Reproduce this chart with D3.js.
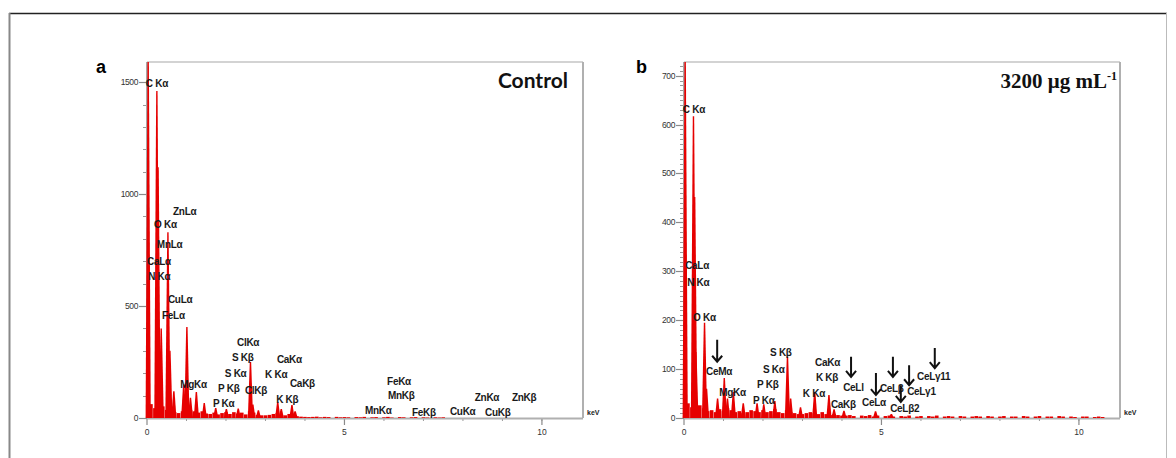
<!DOCTYPE html>
<meta charset="utf-8">
<style>
body { margin: 0; background: #fff; }
svg { display: block; font-family: "Liberation Sans", Arial, sans-serif; }
.peak { fill: #e60000; }
.bg { fill: #e60000; }
.lbl { font-size: 10px; font-weight: bold; fill: #1a1a1a; }
.tick { font-size: 8.5px; fill: #333; }
</style>
<body>
<svg width="1176" height="458"></svg>
<script src="https://d3js.org/d3.v7.min.js"></script>
<script>

// ---- data ----
var keVTicks = [0, 5, 10];
var aYTicks = [0, 500, 1000, 1500];
var bYTicks = [0, 100, 200, 300, 400, 500, 600, 700];

// panel a (Control): peak lines
var aPeakKeV    = [0.03, 0.25, 0.28, 0.36, 0.53, 0.58, 0.68, 0.93, 1.01, 1.10, 1.25, 1.45, 1.74, 2.01, 2.31, 2.62, 2.68, 2.82, 3.31, 3.40, 3.67, 3.75];
var aPeakCounts = [1590, 1460, 1120, 400, 830, 300, 120, 150, 406, 90, 116, 67, 45, 40, 42, 250, 60, 35, 72, 40, 58, 30];
// panel a: background channels, 0.1 keV apart starting at 0.1 keV
var aBgCounts = [62,44,38,52,36,30,26,22,30,28,36,30,24,30,20,18,24,16,22,26,18,26,20,24,16,30,24,14,12,12,14,18,22,14,12,18,12,8,6,5,
                 4,5,6,3,5,4,0,5,3,4,3,0,4,3,5,0,3,4,0,3,5,2,0,4,3,0,3,4,0,3,2,0,3,2,3];
var aLabelText   = ["C K\u03b1","ZnL\u03b1","O K\u03b1","MnL\u03b1","CaL\u03b1","N K\u03b1","CuL\u03b1","FeL\u03b1","ClK\u03b1","S K\u03b2","CaK\u03b1","S K\u03b1","K K\u03b1","CaK\u03b2","MgK\u03b1","P K\u03b2","ClK\u03b2","P K\u03b1","K K\u03b2","FeK\u03b1","MnK\u03b2","MnK\u03b1","FeK\u03b2","CuK\u03b1","CuK\u03b2","ZnK\u03b1","ZnK\u03b2"];
var aLabelKeV    = [-0.03, 0.66, 0.18, 0.25, 0.00, 0.03, 0.53, 0.38, 2.28, 2.15, 3.29, 1.97, 2.99, 3.62, 0.84, 1.80, 2.48, 1.67, 3.27, 6.08, 6.10, 5.52, 6.71, 7.67, 8.56, 8.30, 9.24];
var aLabelCounts = [1478, 908, 848, 759, 683, 616, 513, 442, 321, 254, 246, 183, 179, 138, 134, 116, 107, 49, 67, 147, 85, 18, 9, 13, 9, 76, 76];

// panel b (3200 ug/mL)
var bPeakKeV    = [0.03, 0.24, 0.27, 0.30, 0.52, 0.57, 0.85, 1.02, 1.10, 1.25, 1.50, 1.85, 2.02, 2.30, 2.62, 2.70, 2.95, 3.31, 3.67, 3.80, 4.05, 4.85, 5.25];
var bPeakCounts = [728, 617, 452, 135, 195, 60, 40, 82, 40, 53, 30, 30, 28, 35, 125, 40, 22, 53, 47, 18, 15, 14, 8];
var bBgCounts = [30,22,18,26,20,14,16,12,18,14,20,16,12,14,10,12,16,14,12,16,12,14,18,12,10,16,12,10,8,8,10,12,10,8,12,8,6,8,6,5,
                 5,6,4,0,5,4,6,3,5,0,4,5,3,0,4,3,5,0,3,4,0,4,3,5,0,3,4,3,0,4,3,0,3,4,3,0,4,3,0,3,4,0,3,3,0,4,3,0,3,4,0,3,3,0,4,3,0,3,2,0,3,3,0,2,3,2];
var bLabelText   = ["C K\u03b1","CaL\u03b1","N K\u03b1","O K\u03b1","CeM\u03b1","MgK\u03b1","S K\u03b2","S K\u03b1","P K\u03b2","P K\u03b1","CaK\u03b1","K K\u03b2","K K\u03b1","CaK\u03b2","CeLl","CeL\u03b1","CeL\u03b2","CeL\u03b31","CeL\u03b311","CeL\u03b22"];
var bLabelKeV    = [-0.03, 0.03, 0.08, 0.23, 0.56, 0.89, 2.18, 2.00, 1.85, 1.75, 3.32, 3.34, 3.01, 3.72, 4.03, 4.51, 4.96, 5.65, 5.90, 5.22];
var bLabelCounts = [624, 305, 270, 198, 88, 45, 127, 92, 61, 29, 106, 76, 43, 20, 55, 25, 53, 47, 78, 12];
var bArrowKeV    = [0.84, 4.23, 4.86, 5.29, 5.70, 6.35, 5.49];
var bArrowTop    = [160, 125, 92, 125, 108, 143, 67];
var bArrowBottom = [115, 84, 47, 84, 67, 102, 33];

// ---- drawing ----
var svg = d3.select("svg");

// outer frame
svg.append("line").attr("x1", 9).attr("x2", 1167).attr("y1", 13.5).attr("y2", 13.5).attr("stroke", "#222").attr("stroke-width", 1.5);
svg.append("line").attr("x1", 9.5).attr("x2", 9.5).attr("y1", 13).attr("y2", 458).attr("stroke", "#888").attr("stroke-width", 2);
svg.append("line").attr("x1", 1166.5).attr("x2", 1166.5).attr("y1", 13).attr("y2", 458).attr("stroke", "#bbb").attr("stroke-width", 1);

function panel(id, left, yMax, yTicks, yMinorStep, peakKeV, peakCounts, bgCounts, labText, labKeV, labCounts) {
    var top = 62, bottom = 418, width = 436;
    var x = d3.scaleLinear().domain([0, 11.04]).range([left, left + width]);
    var y = d3.scaleLinear().domain([0, yMax]).range([bottom, top]);
    var g = svg.append("g");

    g.append("clipPath").attr("id", "clip" + id)
        .append("rect").attr("x", left - 2).attr("y", top).attr("width", width + 2).attr("height", bottom - top);

    // frame top / right
    g.append("line").attr("x1", left).attr("x2", left + width).attr("y1", top).attr("y2", top).attr("stroke", "#c4c4c4").attr("stroke-width", 1.5);
    g.append("line").attr("x1", left + width).attr("x2", left + width).attr("y1", top).attr("y2", bottom).attr("stroke", "#b0b0b0").attr("stroke-width", 2);

    // y axis
    var yMinor = d3.range(0, yMax, yMinorStep);
    g.selectAll(".ymin").data(yMinor).enter().append("line")
        .attr("x1", left - 4).attr("x2", left)
        .attr("y1", function(d) { return Math.round(y(d)) + 0.5; })
        .attr("y2", function(d) { return Math.round(y(d)) + 0.5; })
        .attr("stroke", "#9a9a9a").attr("stroke-width", 1);
    g.selectAll(".ymaj").data(yTicks).enter().append("line")
        .attr("x1", left - 8).attr("x2", left)
        .attr("y1", function(d) { return Math.round(y(d)) + 0.5; })
        .attr("y2", function(d) { return Math.round(y(d)) + 0.5; })
        .attr("stroke", "#8a8a8a").attr("stroke-width", 1.2);
    g.selectAll(".ylab").data(yTicks).enter().append("text")
        .attr("class", "tick")
        .attr("x", left - 9).attr("y", function(d) { return y(d); })
        .attr("dy", "0.35em").attr("text-anchor", "end")
        .attr("letter-spacing", "-0.4")
        .text(function(d) { return d; });
    g.append("line").attr("x1", left).attr("x2", left).attr("y1", top).attr("y2", bottom)
        .attr("stroke", "#a8a8a8").attr("stroke-width", 2);

    // x axis
    g.selectAll(".xmin").data(d3.range(1, 11)).enter().append("line")
        .attr("x1", function(d) { return x(d); }).attr("x2", function(d) { return x(d); })
        .attr("y1", bottom).attr("y2", bottom + 3)
        .attr("stroke", "#9a9a9a").attr("stroke-width", 1);
    g.selectAll(".xmaj").data(keVTicks).enter().append("line")
        .attr("x1", function(d) { return x(d); }).attr("x2", function(d) { return x(d); })
        .attr("y1", bottom).attr("y2", bottom + 7)
        .attr("stroke", "#8a8a8a").attr("stroke-width", 1.2);
    g.selectAll(".xlab").data(keVTicks).enter().append("text")
        .attr("class", "tick")
        .attr("x", function(d) { return x(d); }).attr("y", bottom + 17)
        .attr("text-anchor", "middle")
        .text(function(d) { return d; });
    g.append("line").attr("x1", left).attr("x2", left + width).attr("y1", bottom + 0.5).attr("y2", bottom + 0.5)
        .attr("stroke", "#b0b0b0").attr("stroke-width", 2);
    g.append("text").attr("x", left + width + 4).attr("y", bottom - 3)
        .style("font-size", "7px").style("font-weight", "bold").attr("fill", "#222").text("keV");

    // spectrum
    var spec = g.append("g").attr("clip-path", "url(#clip" + id + ")");
    spec.selectAll(".bg").data(bgCounts).enter().append("rect")
        .attr("class", "bg")
        .attr("x", function(d, i) { return x((i + 1) * 0.1) - 1.8; })
        .attr("width", 3.6)
        .attr("y", function(d) { return y(d); })
        .attr("height", function(d) { return bottom - y(d); });
    var pk = peakKeV.map(function(k, i) { return {k: k, c: peakCounts[i]}; });
    spec.selectAll(".peak").data(pk).enter().append("path")
        .attr("class", "peak")
        .attr("d", function(d) {
            var px = x(d.k), py = y(d.c);
            return "M" + (px - 2.6) + "," + bottom + "L" + (px - 0.7) + "," + py + "L" + (px + 0.7) + "," + py + "L" + (px + 2.6) + "," + bottom + "Z";
        });

    // peak labels
    g.selectAll(".lbl").data(labText).enter().append("text")
        .attr("class", "lbl")
        .attr("x", function(d, i) { return x(labKeV[i]); })
        .attr("y", function(d, i) { return y(labCounts[i]); })
        .attr("letter-spacing", "-0.3")
        .text(function(d) { return d; });

    return {x: x, y: y, g: g};
}

var pa = panel("a", 147, 1590, aYTicks, 100, aPeakKeV, aPeakCounts, aBgCounts, aLabelText, aLabelKeV, aLabelCounts);
var pb = panel("b", 684, 728, bYTicks, 10, bPeakKeV, bPeakCounts, bBgCounts, bLabelText, bLabelKeV, bLabelCounts);

// arrows in panel b
var arrows = bArrowKeV.map(function(k, i) { return {k: k, t: bArrowTop[i], b: bArrowBottom[i]}; });
pb.g.selectAll(".arrow").data(arrows).enter().append("path")
    .attr("fill", "none").attr("stroke", "#111").attr("stroke-width", 2)
    .attr("d", function(d) {
        var ax = pb.x(d.k), at = pb.y(d.t), ab = pb.y(d.b);
        return "M" + ax + "," + at + "L" + ax + "," + ab +
               "M" + (ax - 5) + "," + (ab - 6) + "L" + ax + "," + ab + "L" + (ax + 5) + "," + (ab - 6);
    });

// panel letters and titles
svg.append("text").attr("x", 96).attr("y", 73).style("font-size", "18px").style("font-weight", "bold").text("a");
svg.append("text").attr("x", 636).attr("y", 73).style("font-size", "18px").style("font-weight", "bold").text("b");
svg.append("text").attr("x", 568).attr("y", 88).attr("text-anchor", "end")
    .style("font-family", "Lato, 'Open Sans', sans-serif").style("font-size", "21px").style("font-weight", "bold")
    .attr("fill", "#111").text("Control");
var t = svg.append("text").attr("x", 1117).attr("y", 88).attr("text-anchor", "end")
    .style("font-family", "'Liberation Serif', serif").style("font-size", "21px").style("font-weight", "bold").attr("fill", "#111");
t.append("tspan").text("3200 \u03bcg mL");
t.append("tspan").attr("dy", -8).style("font-size", "12px").text("-1");

</script>
</body>
